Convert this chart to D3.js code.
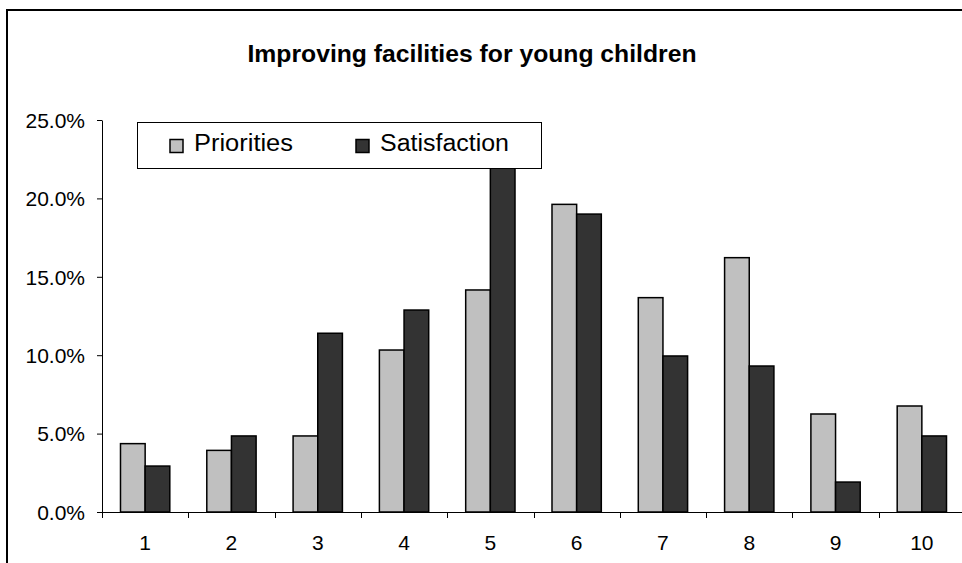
<!DOCTYPE html>
<html>
<head>
<meta charset="utf-8">
<script src="https://cdn.jsdelivr.net/npm/d3@7"></script>
<style>
  html, body { margin: 0; padding: 0; background: #fff; }
  svg { display: block; font-family: "Liberation Sans", Arial, sans-serif; }
</style>
</head>
<body>
<svg id="chart" width="962" height="563"></svg>
<script>
const categories = ["1","2","3","4","5","6","7","8","9","10"];
const seriesNames = ["Priorities","Satisfaction"];
const priorities = [4.36, 3.93, 4.85, 10.33, 14.16, 19.62, 13.67, 16.22, 6.25, 6.76];
const satisfaction = [2.93, 4.85, 11.4, 12.88, 22.9, 19.0, 9.95, 9.31, 1.91, 4.85];
const yTicks = [0, 5, 10, 15, 20, 25];
const colors = ["#C0C0C0", "#333333"];
const title = "Improving facilities for young children";

const svg = d3.select("#chart");

// outer chart border
svg.append("rect")
  .attr("x", 7).attr("y", 10).attr("width", 970).attr("height", 570)
  .attr("fill", "#fff").attr("stroke", "#000").attr("stroke-width", 2);

const plot = {left: 102, right: 965, top: 120, bottom: 512};

const x0 = d3.scaleBand().domain(categories).range([plot.left, plot.right]).paddingInner(0).paddingOuter(0);
const x1 = d3.scaleBand().domain(seriesNames).range([0, x0.bandwidth()]).paddingInner(0).paddingOuter(0.75);
const y = d3.scaleLinear().domain([0, 25]).range([plot.bottom, plot.top]);

const data = categories.map((c, i) => ({cat: c, values: [priorities[i], satisfaction[i]]}));

// bars
const g = svg.append("g");
data.forEach(d => {
  seriesNames.forEach((s, j) => {
    g.append("rect")
      .attr("x", x0(d.cat) + x1(s))
      .attr("y", y(d.values[j]))
      .attr("width", x1.bandwidth())
      .attr("height", y(0) - y(d.values[j]))
      .attr("fill", colors[j])
      .attr("stroke", "#000")
      .attr("stroke-width", 1.5);
  });
});

// y axis
const yAxis = d3.axisLeft(y).tickValues(yTicks).tickSize(5).tickSizeOuter(0)
  .tickFormat(d => d.toFixed(1) + "%");
const ya = svg.append("g").attr("transform", `translate(${plot.left},0)`).call(yAxis);
ya.select(".domain").attr("stroke", "#000");
ya.selectAll(".tick line").attr("stroke", "#000");
ya.selectAll(".tick text").attr("font-size", 21).attr("fill", "#000")
  .attr("font-family", "Liberation Sans, Arial, sans-serif").attr("x", -17).attr("dy", "0.35em");

// x axis line and boundary ticks
svg.append("line").attr("x1", plot.left).attr("x2", plot.right + 5)
  .attr("y1", plot.bottom + 0.5).attr("y2", plot.bottom + 0.5).attr("stroke", "#000");
categories.forEach(c => {
  const bx = Math.round(x0(c)) + 0.5;
  svg.append("line").attr("x1", bx).attr("x2", bx)
    .attr("y1", plot.bottom).attr("y2", plot.bottom + 6).attr("stroke", "#000");
  svg.append("text").attr("x", x0(c) + x0.bandwidth() / 2).attr("y", 550)
    .attr("text-anchor", "middle").attr("font-size", 21).attr("fill", "#000").text(c);
});

// title
svg.append("text").attr("x", 472).attr("y", 62).attr("text-anchor", "middle")
  .attr("font-size", 23).attr("font-weight", "bold").attr("fill", "#000")
  .attr("textLength", 449).attr("lengthAdjust", "spacingAndGlyphs")
  .text(title);

// legend
const lg = svg.append("g");
lg.append("rect").attr("x", 137.5).attr("y", 122.5).attr("width", 404).attr("height", 46)
  .attr("fill", "#fff").attr("stroke", "#000").attr("stroke-width", 1);
const legX = [170, 356];
const legTX = [194, 380];
const legLen = [99, 129];
seriesNames.forEach((s, j) => {
  lg.append("rect").attr("x", legX[j]).attr("y", 139.5).attr("width", 13).attr("height", 13)
    .attr("fill", colors[j]).attr("stroke", "#000").attr("stroke-width", 1.5);
  lg.append("text").attr("x", legTX[j]).attr("y", 151).attr("font-size", 23).attr("fill", "#000")
    .attr("textLength", legLen[j]).attr("lengthAdjust", "spacingAndGlyphs")
    .text(s);
});
</script>
</body>
</html>
